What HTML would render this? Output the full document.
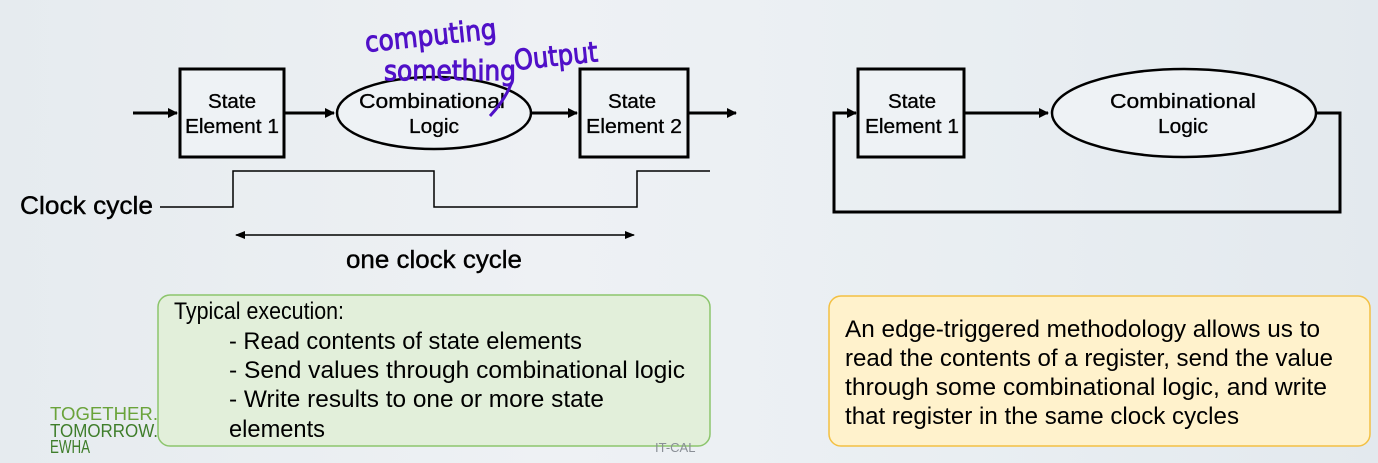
<!DOCTYPE html>
<html><head><meta charset="utf-8"><style>
html,body{margin:0;padding:0}
body{width:1378px;height:463px;overflow:hidden;background:linear-gradient(90deg,#e6ebef 0%,#eef1f4 40%,#e9eef2 70%,#e3e9ee 100%);position:relative;font-family:"Liberation Sans",sans-serif}
svg{position:absolute;left:0;top:0}
</style></head><body>
<svg width="1378" height="463" viewBox="0 0 1378 463" xmlns="http://www.w3.org/2000/svg">
<defs>
<marker id="ah" markerWidth="10" markerHeight="10" refX="9" refY="5" orient="auto" markerUnits="userSpaceOnUse"><path d="M0,0 L10,5 L0,10 z" fill="#000"/></marker>
<marker id="ah2" markerWidth="10" markerHeight="8" refX="9" refY="4" orient="auto-start-reverse" markerUnits="userSpaceOnUse"><path d="M0,0 L10,4 L0,8 z" fill="#000"/></marker>
</defs>
<g stroke="#000" fill="none" stroke-width="3">
<line x1="133" y1="113" x2="177" y2="113" marker-end="url(#ah)"/>
<rect x="180" y="69" width="104" height="88" fill="#eef2f5"/>
<line x1="284" y1="113" x2="334" y2="113" marker-end="url(#ah)"/>
<ellipse cx="434" cy="113" rx="97" ry="36" fill="#eef2f5" stroke-width="2.5"/>
<line x1="531" y1="113" x2="577" y2="113" marker-end="url(#ah)"/>
<rect x="580" y="69" width="108" height="88" fill="#eef2f5"/>
<line x1="688" y1="113" x2="736" y2="113" marker-end="url(#ah)"/>
<rect x="858" y="69" width="106" height="88" fill="#eef2f5"/>
<line x1="964" y1="113" x2="1048" y2="113" marker-end="url(#ah)"/>
<ellipse cx="1184" cy="113" rx="132" ry="44" fill="#eef2f5" stroke-width="2.5"/>
<polyline points="1316,113 1340,113 1340,212 834,212 834,113 856,113" marker-end="url(#ah)"/>
</g>
<polyline points="160,207 233,207 233,171 434,171 434,207 637,207 637,171 710,171" fill="none" stroke="#000" stroke-width="1.5"/>
<line x1="236" y1="235" x2="634" y2="235" stroke="#000" stroke-width="1.5" marker-start="url(#ah2)" marker-end="url(#ah2)"/>
<g font-family="Liberation Sans, sans-serif" font-size="20" fill="#000" text-anchor="middle" stroke="#000" stroke-width="0.3" lengthAdjust="spacingAndGlyphs">
<text x="232" y="108" textLength="48" lengthAdjust="spacingAndGlyphs">State</text><text x="232" y="133" textLength="94" lengthAdjust="spacingAndGlyphs">Element 1</text>
<text x="432" y="108" textLength="146" lengthAdjust="spacingAndGlyphs">Combinational</text><text x="434" y="133" textLength="50" lengthAdjust="spacingAndGlyphs">Logic</text>
<text x="632" y="108" textLength="48" lengthAdjust="spacingAndGlyphs">State</text><text x="634" y="133" textLength="96" lengthAdjust="spacingAndGlyphs">Element 2</text>
<text x="912" y="108" textLength="48" lengthAdjust="spacingAndGlyphs">State</text><text x="912" y="133" textLength="94" lengthAdjust="spacingAndGlyphs">Element 1</text>
<text x="1183" y="108" textLength="146" lengthAdjust="spacingAndGlyphs">Combinational</text><text x="1183" y="133" textLength="50" lengthAdjust="spacingAndGlyphs">Logic</text>
</g>
<text x="20" y="214" font-size="25" font-family="Liberation Sans, sans-serif" stroke="#000" stroke-width="0.4" textLength="133" lengthAdjust="spacingAndGlyphs">Clock cycle</text>
<text x="346" y="268" font-size="25" font-family="Liberation Sans, sans-serif" stroke="#000" stroke-width="0.4" textLength="176" lengthAdjust="spacingAndGlyphs">one clock cycle</text>
<g fill="#5010c8" stroke="#5010c8" stroke-width="1" font-family="DejaVu Sans, sans-serif" font-size="28">
<text x="366" y="52" transform="rotate(-6 366 52)" textLength="132" lengthAdjust="spacingAndGlyphs">computing</text>
<text x="384" y="80" textLength="132" lengthAdjust="spacingAndGlyphs">something</text>
<text x="515" y="70" transform="rotate(-6 515 70)" textLength="84" lengthAdjust="spacingAndGlyphs">Output</text>
</g>
<path d="M512,82 Q505,100 490,116" stroke="#5010c8" stroke-width="3" fill="none"/>
<rect x="158" y="295" width="552" height="151" rx="12" fill="#e2efda" stroke="#8cc56c" stroke-width="1.5"/>
<rect x="829" y="296" width="541" height="150" rx="12" fill="#fff2cc" stroke="#f3c043" stroke-width="1.5"/>
<g font-family="Liberation Sans, sans-serif" font-size="24" fill="#000">
<text x="174" y="319" textLength="170" lengthAdjust="spacingAndGlyphs">Typical execution:</text>
<text x="229" y="349" textLength="353" lengthAdjust="spacingAndGlyphs">- Read contents of state elements</text>
<text x="229" y="378" textLength="456" lengthAdjust="spacingAndGlyphs">- Send values through combinational logic</text>
<text x="229" y="407" textLength="375" lengthAdjust="spacingAndGlyphs">- Write results to one or more state</text>
<text x="229" y="437" textLength="96" lengthAdjust="spacingAndGlyphs">elements</text>
<text x="845" y="337" textLength="475" lengthAdjust="spacingAndGlyphs">An edge-triggered methodology allows us to</text>
<text x="845" y="366" textLength="488" lengthAdjust="spacingAndGlyphs">read the contents of a register, send the value</text>
<text x="845" y="395" textLength="482" lengthAdjust="spacingAndGlyphs">through some combinational logic, and write</text>
<text x="845" y="424" textLength="394" lengthAdjust="spacingAndGlyphs">that register in the same clock cycles</text>
</g>
<g font-family="Liberation Sans, sans-serif" font-size="18" fill="#6aa33a">
<text x="50" y="420" textLength="108" lengthAdjust="spacingAndGlyphs">TOGETHER.</text>
<text x="50" y="437" textLength="108" lengthAdjust="spacingAndGlyphs" fill="#3e7d2a">TOMORROW.</text>
<text x="50" y="453" textLength="40" lengthAdjust="spacingAndGlyphs" fill="#3e7d2a">EWHA</text>
</g>
<text x="655" y="452" font-size="13" fill="#8a8f96" font-family="Liberation Sans, sans-serif">IT-CAL</text>
</svg>
</body></html>
